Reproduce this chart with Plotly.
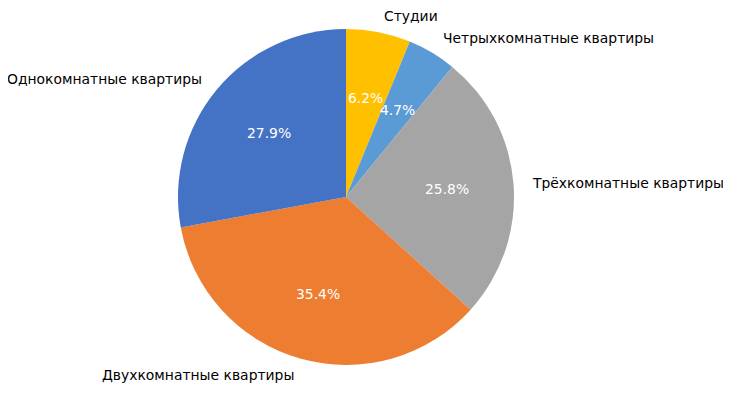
import math
import plotly.graph_objects as go

labels = ["Однокомнатные квартиры", "Двухкомнатные квартиры", "Трёхкомнатные квартиры",
          "Четрыхкомнатные квартиры", "Студии"]
values = [27.9, 35.4, 25.8, 4.7, 6.2]
colors = ["#4472C4", "#ED7D31", "#A5A5A5", "#5B9BD5", "#FFC000"]

# page body has an 8px margin, so the figure is shrunk by that amount
W, H = 723, 388
ML, MR, MT, MB = 170, 217, 21, 31

# slices run counter-clockwise from 12 o'clock; equivalently clockwise with reversed order
fig = go.Figure(go.Pie(
    labels=labels[::-1], values=values[::-1], sort=False, direction="clockwise", rotation=0,
    marker=dict(colors=colors[::-1], line=dict(width=0)),
    textinfo="none", hoverinfo="label+percent", showlegend=False,
))

FONT = "DejaVu Sans"
FS = 13.9
total = sum(values)
annotations = []
start = 90.0
for lab, v in zip(labels, values):
    span = 360.0 * v / total
    mid = math.radians(start + span / 2)
    start += span
    c, s = math.cos(mid), math.sin(mid)
    # label at 1.1 r
    annotations.append(dict(
        x=0.5 + 0.55 * c, y=0.5 + 0.55 * s, xref="paper", yref="paper",
        text=lab, showarrow=False, xanchor="left" if c > 0 else "right", yanchor="middle",
        font=dict(family=FONT, size=FS, color="black"),
    ))
    # percentage at 0.6 r
    annotations.append(dict(
        x=0.5 + 0.3 * c, y=0.5 + 0.3 * s, xref="paper", yref="paper",
        text="%1.1f%%" % (100 * v / total), showarrow=False, xanchor="center", yanchor="middle",
        font=dict(family=FONT, size=FS, color="white"),
    ))

fig.update_layout(
    width=W, height=H, margin=dict(l=ML, r=MR, t=MT, b=MB),
    paper_bgcolor="white", plot_bgcolor="white",
    annotations=annotations, font=dict(family=FONT),
)
fig.write_html("out.html")
